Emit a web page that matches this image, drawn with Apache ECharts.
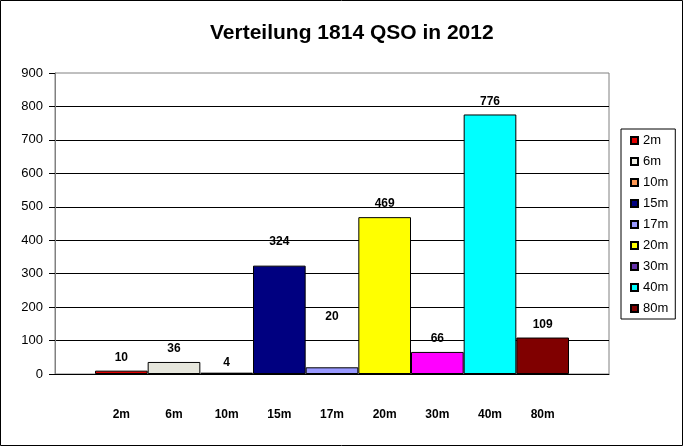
<!DOCTYPE html>
<html><head><meta charset="utf-8">
<script src="https://cdn.jsdelivr.net/npm/echarts@6/dist/echarts.min.js"></script>
<style>html,body{margin:0;padding:0;background:#fff}#c{width:683px;height:446px}</style>
</head><body><div id="c"></div>
<script>
const categories = ['2m','6m','10m','15m','17m','20m','30m','40m','80m'];
const values = [10, 36, 4, 324, 20, 469, 66, 776, 109];
const legendColors = ['#E00000','#EDEDE4','#FF9955','#000080','#9999FF','#FFFF00','#6633AA','#00FFFF','#800000'];
const barColors = ['#E00000','#E6E6DC','#222222','#000080','#9999FF','#FFFF00','#FF00FF','#00FFFF','#800000'];
const yTicks = [0,100,200,300,400,500,600,700,800,900];
const labelShift = {3: -11, 4: -38, 2: 3};

const chart = echarts.init(document.getElementById('c'), null, {renderer:'canvas'});
const font = 'Arial, "Liberation Sans", sans-serif';
const series = categories.map((name, i) => ({
  name: name,
  type: 'bar',
  stack: 'all',
  xAxisIndex: 1, yAxisIndex: 1,
  barCategoryGap: 0,
  itemStyle: {color: legendColors[i], borderColor: '#000', borderWidth: 1},
  label: {show: true, position: 'top', distance: 7, color: '#000', fontWeight: 'bold', fontSize: 12, fontFamily: font},
  data: categories.map((c, j) => j === i ? {
    value: values[j],
    itemStyle: {color: barColors[j]},
    label: {offset: [0, labelShift[j] || 0]}
  } : '-')
}));
series.push({type:'bar', xAxisIndex:0, yAxisIndex:0, data:[], silent:true});

chart.setOption({
  backgroundColor: '#fff',
  animation: false,
  title: {text: 'Verteilung 1814 QSO in 2012', left: 205, top: 18,
    textStyle: {fontFamily: font, fontWeight: 'bold', fontSize: 21, color: '#000'}},
  legend: {
    orient: 'vertical', left: 621, top: 129,
    padding: [5, 7, 4, 9], itemGap: 8, itemWidth: 7, itemHeight: 7,
    borderColor: '#000', borderWidth: 1, icon: 'rect',
    textStyle: {fontFamily: font, fontSize: 13, color: '#000'},
    data: categories
  },
  grid: [
    {left: 55, right: 74, top: 73, bottom: 72, show: true, borderColor: '#808080', borderWidth: 1},
    {left: 95, right: 114, top: 73, bottom: 72}
  ],
  xAxis: [
    {type: 'value', gridIndex: 0, min: 0, max: 1, axisLine: {show: true, lineStyle: {color: '#000'}},
     axisTick: {show: false}, axisLabel: {show: false}, splitLine: {show: false}},
    {type: 'category', gridIndex: 1, data: categories, axisLine: {show: false}, axisTick: {show: false},
     axisLabel: {margin: 35, color: '#000', fontWeight: 'bold', fontSize: 12, fontFamily: font}}
  ],
  yAxis: [
    {type: 'value', gridIndex: 0, min: yTicks[0], max: yTicks[yTicks.length-1], interval: 100,
     axisLine: {show: true, lineStyle: {color: '#808080'}},
     axisTick: {show: true, length: 6, lineStyle: {color: '#000'}},
     axisLabel: {margin: 12, color: '#000', fontSize: 13, fontFamily: font},
     splitLine: {show: true, showMaxLine: false, lineStyle: {color: '#000', width: 1}}},
    {type: 'value', gridIndex: 1, min: 0, max: 900, show: false, splitLine: {show: false}}
  ],
  graphic: [{type: 'rect', shape: {x: 0.5, y: 0.5, width: 682, height: 445},
    style: {fill: 'none', stroke: '#000', lineWidth: 1}, z: 100}],
  series: series
});
</script></body></html>
